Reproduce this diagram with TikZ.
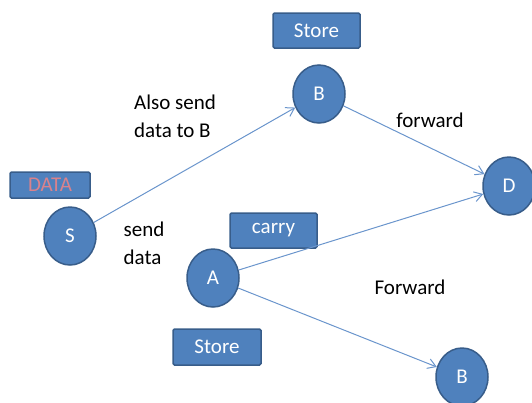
\documentclass[tikz,border=0pt]{standalone}
\usepackage{fontspec}
\setmainfont{Carlito}
\usetikzlibrary{arrows.meta,shapes.geometric}
\definecolor{nodefill}{HTML}{4F81BD}
\definecolor{nodeline}{HTML}{385D8A}
\definecolor{edgeblue}{HTML}{6A95CC}
\definecolor{datatext}{HTML}{D9828C}
\tikzset{
  site/.style={ellipse, draw=nodeline, line width=1.5pt, fill=nodefill,
    minimum width=52pt, minimum height=58pt, inner sep=0pt,
    text=white, font=\fontsize{21}{21}\selectfont},
  tag/.style={draw=nodeline, line width=1.5pt, fill=nodefill, rounded corners=1.5pt,
    inner sep=0pt, text=white, font=\fontsize{21}{21}\selectfont},
  link/.style={draw=edgeblue, line width=1pt, -{Straight Barb[length=8pt,width=10pt]}},
  caption/.style={font=\fontsize{21}{28}\selectfont, align=left, text=black}
}
\begin{document}
\begin{tikzpicture}[x=1pt,y=-1pt]
\useasboundingbox (0,0) rectangle (532,402);
% tags
\node[tag, minimum width=80pt, minimum height=26pt, text=datatext] (tdata) at (50,185) {DATA};
\node[tag, minimum width=87pt, minimum height=35pt] (tstore1) at (316.5,30.5) {Store};
\node[tag, minimum width=87pt, minimum height=35pt] (tcarry) at (273.5,230.5) {carry};
\node[tag, minimum width=88pt, minimum height=36pt] (tstore2) at (217,347) {Store};
% sites
\node[site] (S) at (70,236) {S};
\node[site] (B1) at (319,94) {B};
\node[site] (A) at (213,278) {A};
\node[site] (D) at (509,186) {D};
\node[site] (B2) at (462,377) {B};
% links
\draw[link] (S) -- (B1);
\draw[link] (B1) -- (D);
\draw[link] (A) -- (D);
\draw[link] (A) -- (B2);
% captions
\node[caption] (c1) at (175,116) {Also send\\data to B};
\node[caption] (c2) at (144,243) {send\\data};
\node[caption] (c3) at (430,120) {forward};
\node[caption] (c4) at (410,287) {Forward};
\end{tikzpicture}
\end{document}
